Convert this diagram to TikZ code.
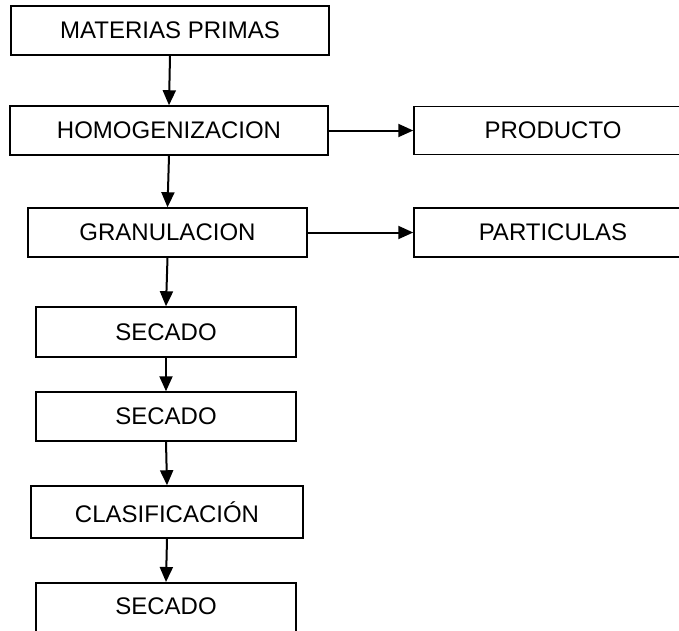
\documentclass[tikz,border=0pt]{standalone}
\usepackage{fontspec}
\setmainfont{Liberation Sans}
\usetikzlibrary{arrows.meta}
\begin{document}
\begin{tikzpicture}[x=1pt,y=-1pt,
  boxfont/.style={font=\fontsize{24}{28}\selectfont},
  procbox/.style={draw=black, line width=1.5pt, rectangle, inner sep=0pt, boxfont},
  flow/.style={line width=2pt, -{Triangle[length=15pt,width=13pt]}}]
\useasboundingbox (0,0) rectangle (679,630);
\clip (0,0) rectangle (679,630);
\node[procbox, minimum width=318pt, minimum height=49pt] (mp) at (170,30.5) {MATERIAS PRIMAS};
\node[procbox, minimum width=318pt, minimum height=49pt] (hom) at (169,130.5) {HOMOGENIZACION};
\node[procbox, minimum width=278pt, minimum height=48pt] (prod) at (553,130.5) {PRODUCTO};
\node[procbox, minimum width=279pt, minimum height=49pt] (gran) at (167.5,232.5) {GRANULACION};
\node[procbox, minimum width=278pt, minimum height=49pt] (part) at (553,232.5) {PARTICULAS};
\node[procbox, minimum width=260pt, minimum height=50pt] (sec1) at (166,332) {SECADO};
\node[procbox, minimum width=260pt, minimum height=49pt] (sec2) at (166,416.5) {SECADO};
\node[procbox, minimum width=272pt, minimum height=52pt] (clas) at (167,512) {CLASIFICACIÓN};
\node[procbox, minimum width=260pt, minimum height=70pt, anchor=north] (sec3) at (166,582) {};
\node[boxfont, inner sep=0pt] (sec3txt) at (166,606.5) {SECADO};
\draw[flow] (mp.south) -- (hom.north);
\draw[flow] (hom.east) -- (prod.west);
\draw[flow] (hom.south) -- (gran.north);
\draw[flow] (gran.east) -- (part.west);
\draw[flow] (gran.south) -- (sec1.north);
\draw[flow] (sec1.south) -- (sec2.north);
\draw[flow] (sec2.south) -- (clas.north);
\draw[flow] (clas.south) -- (sec3.north);
\end{tikzpicture}
\end{document}
